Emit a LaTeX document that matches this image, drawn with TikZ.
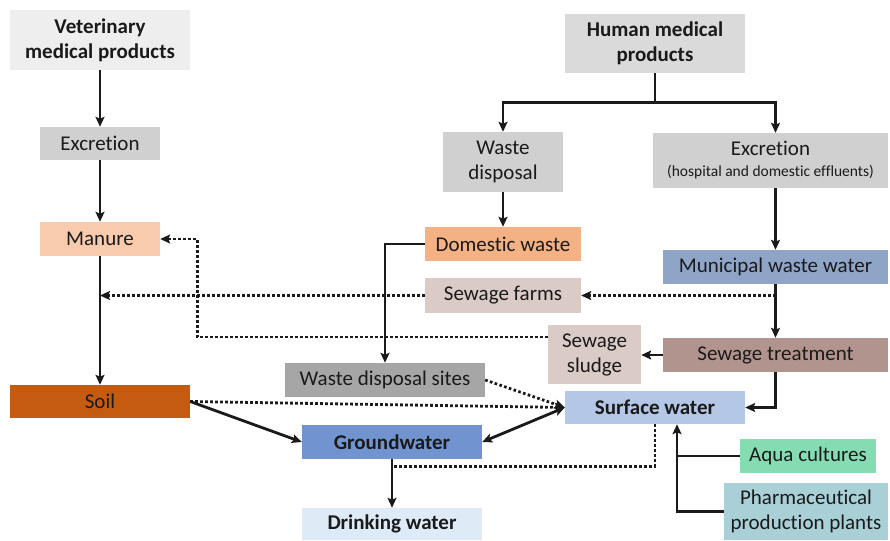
\documentclass[tikz,border=0pt]{standalone}
\usepackage{fontspec}
\setmainfont{Carlito}[Ligatures=NoCommon]
\usetikzlibrary{arrows.meta,calc}

\definecolor{inkc}{HTML}{1A1A1A}
\definecolor{vetc}{HTML}{EEEEEE}
\definecolor{humc}{HTML}{DADADA}
\definecolor{greyc}{HTML}{D0D0D0}
\definecolor{manurec}{HTML}{F8CBAD}
\definecolor{domc}{HTML}{F4B183}
\definecolor{soilc}{HTML}{C55A11}
\definecolor{munic}{HTML}{8FA5C8}
\definecolor{farmc}{HTML}{DACBC6}
\definecolor{treatc}{HTML}{B2948E}
\definecolor{sitesc}{HTML}{A6A6A6}
\definecolor{surfc}{HTML}{B4C7E7}
\definecolor{groundc}{HTML}{7194D0}
\definecolor{drinkc}{HTML}{DEEBF7}
\definecolor{aquac}{HTML}{86DCB2}
\definecolor{pharmac}{HTML}{A9CFD7}

\begin{document}
\begin{tikzpicture}[x=1pt,y=-1pt,
  box/.style={rectangle, inner sep=0pt, align=center, text=inkc,
    font=\fontsize{21}{25}\selectfont},
  bbox/.style={box, font=\fontsize{21}{25}\selectfont\bfseries},
  link/.style={draw=inkc, line width=2.8pt},
  tip/.style={-{Stealth[length=10pt,width=9pt,inset=2pt]}},
  arr/.style={link, tip},
  dblarr/.style={link, {Stealth[length=10pt,width=9pt,inset=2pt]}-{Stealth[length=10pt,width=9pt,inset=2pt]}},
  dotline/.style={draw=inkc, line width=2.8pt, dash pattern=on 2.6pt off 2.4pt},
  dotarr/.style={dotline, tip}
]
\useasboundingbox (0,0) rectangle (890,540);

% left branch: veterinary products
\node[bbox, fill=vetc, minimum width=180pt, minimum height=60pt] (vet) at (100,40) {Veterinary\\medical products};
\node[box, fill=greyc, minimum width=120pt, minimum height=33pt] (exL) at (100,143.5) {Excretion};
\node[box, fill=manurec, minimum width=120pt, minimum height=34pt] (manure) at (100,239) {Manure};
\node[box, fill=soilc, minimum width=180pt, minimum height=33pt] (soil) at (100,401.5) {Soil};

% right branch: human products
\node[bbox, fill=humc, minimum width=180pt, minimum height=59pt] (human) at (655,43.5) {Human medical\\products};
\node[box, fill=greyc, minimum width=120pt, minimum height=60pt] (wdisp) at (503,162) {Waste\\disposal};
\node[box, fill=greyc, minimum width=235pt, minimum height=55pt, font=\fontsize{21}{21}\selectfont] (exR) at (770.5,160.5)
  {Excretion\\{\fontsize{15.5}{16}\selectfont(hospital and domestic effluents)}};
\node[box, fill=domc, minimum width=156pt, minimum height=34pt] (domestic) at (503,244) {Domestic waste};
\node[box, fill=munic, minimum width=225pt, minimum height=34pt] (muni) at (775.5,267) {Municipal waste water};
\node[box, fill=farmc, minimum width=156pt, minimum height=35pt] (sfarms) at (503,295.5) {Sewage farms};
\node[box, fill=farmc, minimum width=93pt, minimum height=59pt] (sludge) at (594.5,354.5) {Sewage\\sludge};
\node[box, fill=treatc, minimum width=225pt, minimum height=34pt] (streat) at (775.5,355) {Sewage treatment};
\node[box, fill=sitesc, minimum width=200pt, minimum height=34pt] (wsites) at (385,380) {Waste disposal sites};

% waters
\node[bbox, fill=surfc, minimum width=180pt, minimum height=33pt] (surface) at (655,407.5) {Surface water};
\node[bbox, fill=groundc, minimum width=180pt, minimum height=34pt] (ground) at (392,442) {Groundwater};
\node[bbox, fill=drinkc, minimum width=180pt, minimum height=32pt] (drink) at (392,524) {Drinking water};
\node[box, fill=aquac, minimum width=136pt, minimum height=34pt] (aqua) at (808,456) {Aqua cultures};
\node[box, fill=pharmac, minimum width=164pt, minimum height=57pt] (pharma) at (806,511.5) {Pharmaceutical\\production plants};

% veterinary pathway
\draw[arr] (vet) -- (exL);
\draw[arr] (exL) -- (manure);
\draw[arr] (manure) -- (soil);

% human pathway
\draw[arr] (human.south) -- ++(0,29) -| (wdisp.north);
\draw[arr] (human.south) -- ++(0,29) -| (exR.north -| muni.north);
\draw[arr] (wdisp) -- (domestic);
\draw[arr] (exR.south -| muni.north) -- (muni.north);
\draw[arr] (muni) -- (streat);
\draw[arr] (streat.west) -- (streat.west -| sludge.east);
\draw[arr] (domestic.west) -| (wsites.north);
\draw[arr] (streat.south) |- (surface.east);

% sewage reuse (dotted)
\draw[dotarr] (muni.south |- sfarms.east) -- (sfarms.east);
\draw[dotarr] (sfarms.west) -- (sfarms.west -| manure.south);
\draw[dotarr] ([yshift=17.5pt]sludge.west) -| ([xshift=37pt]manure.east) -- (manure.east);

% into the waters
\draw[dotarr] (wsites.east) -- (surface.west);
\draw[dotarr] (soil.east) -- (surface.west);
\draw[arr] (soil.east) -- (ground.west);
\draw[dblarr] (ground.east) -- (surface.west);
\draw[dotline] (surface.south) |- ([yshift=-7pt]ground.south);
\draw[arr] (ground) -- (drink);

% direct inputs to surface water
\coordinate (join) at ([xshift=22pt]surface.south);
\draw[arr] (pharma.west) -| (join);
\draw[link] (aqua.west) -- (aqua.west -| join);
\end{tikzpicture}
\end{document}
